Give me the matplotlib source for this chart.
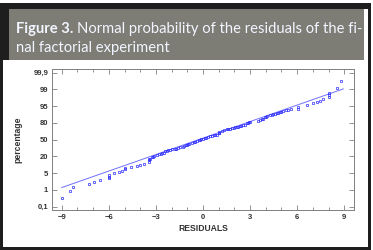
import matplotlib
matplotlib.use("Agg")
import matplotlib.pyplot as plt
import numpy as np
from matplotlib.patches import Rectangle
from matplotlib.ticker import MultipleLocator

# residuals and their position on the (evenly spaced) probability axis,
# read off the picture; 0 -> 0.1 %, 8 -> 99.9 %
residuals = [
    -9.00, -8.49, -8.28, -7.28, -6.96, -6.58, -5.99, -5.99, -5.99, -5.69,
    -5.37, -5.14, -4.99, -4.99, -4.57, -4.21, -3.99, -3.78, -3.46, -3.46,
    -3.42, -3.35, -3.25, -3.20, -3.10, -2.93, -2.80, -2.70, -2.60, -2.51,
    -2.40, -2.30, -2.20, -2.10, -1.98, -1.80, -1.70, -1.60, -1.45, -1.30,
    -1.24, -1.10, -1.03, -0.95, -0.86, -0.70, -0.60, -0.50, -0.40, -0.28,
    -0.20, -0.10, 0.03, 0.10, 0.20, 0.35, 0.45, 0.55, 0.67, 0.75,
    0.88, 0.99, 1.00, 1.05, 1.20, 1.31, 1.52, 1.60, 1.70, 1.84,
    2.00, 2.05, 2.15, 2.26, 2.35, 2.45, 2.58, 2.70, 2.79, 2.85,
    2.90, 3.00, 3.53, 3.60, 3.75, 3.85, 3.96, 4.00, 4.07, 4.28,
    4.40, 4.49, 4.60, 4.70, 4.80, 4.91, 5.00, 5.12, 5.30, 5.44,
    5.60, 6.08, 6.08, 6.61, 7.03, 7.25, 7.46, 7.67, 8.05, 8.05,
    8.05, 8.52, 8.79,
]
prob_pos = [
    0.52, 0.96, 1.20, 1.34, 1.46, 1.57, 1.69, 1.79, 1.89, 1.99,
    2.05, 2.13, 2.23, 2.31, 2.35, 2.43, 2.49, 2.55, 2.69, 2.79,
    2.87, 2.82, 2.95, 2.98, 3.03, 3.11, 3.12, 3.15, 3.20, 3.23,
    3.31, 3.35, 3.36, 3.38, 3.42, 3.45, 3.47, 3.50, 3.54, 3.58,
    3.62, 3.66, 3.70, 3.72, 3.74, 3.78, 3.84, 3.86, 3.90, 3.98,
    4.00, 4.02, 4.06, 4.08, 4.12, 4.18, 4.20, 4.22, 4.26, 4.27,
    4.28, 4.38, 4.42, 4.48, 4.50, 4.58, 4.62, 4.64, 4.66, 4.68,
    4.72, 4.78, 4.76, 4.78, 4.80, 4.84, 4.86, 4.90, 4.98, 5.00,
    5.06, 5.08, 5.14, 5.16, 5.22, 5.26, 5.33, 5.36, 5.42, 5.47,
    5.48, 5.51, 5.54, 5.57, 5.60, 5.65, 5.68, 5.73, 5.76, 5.77,
    5.80, 5.93, 5.83, 6.07, 6.17, 6.23, 6.29, 6.41, 6.53, 6.67,
    6.81, 7.07, 7.50,
]
# fitted reference line (end points)
fit_x = [-9.0, 8.94]
fit_pos = [1.14, 7.03]

pct_labels = ["0,1", "1", "5", "20", "50", "80", "95", "99", "99,9"]
x_ticks = [-9, -6, -3, 0, 3, 6, 9]

W, H = 373, 250
fig = plt.figure(figsize=(W / 100, H / 100), dpi=100)
fig.patch.set_facecolor("white")


def px_rect(x0, y0, x1, y1, color):
    # rectangle given in pixel coords, origin at top-left
    fig.patches.append(Rectangle((x0 / W, 1 - y1 / H), (x1 - x0) / W,
                                 (y1 - y0) / H, transform=fig.transFigure,
                                 facecolor=color, edgecolor="none", zorder=-5))


# card frame and title box
px_rect(0, 2.7, 371, 250, "#1e1e1e")
px_rect(3, 60, 367.5, 246.5, "white")
px_rect(364, 9, 367.5, 60, "white")
px_rect(9, 9, 364, 60, "#7d7d76")

title_color = "#f2f5ff"
title_size = 10.6
t1 = fig.text(16 / W, 1 - 33 / H, "Figure 3.", fontfamily="Lato",
              fontweight="bold", fontsize=title_size, color=title_color)
fig.canvas.draw()
bb = t1.get_window_extent()
fig.text((bb.x1 + 3.5) / W, 1 - 33 / H,
         "Normal probability of the residuals of the fi-",
         fontfamily="Lato", fontsize=title_size, color=title_color)
fig.text(16 / W, 1 - 52 / H, "nal factorial experiment",
         fontfamily="Lato", fontsize=title_size, color=title_color)

ax = fig.add_axes([52.3 / W, 1 - 210 / H, (354 - 52.3) / W, (210 - 69.3) / H])
ax.patch.set_alpha(0)
ax.plot(fit_x, fit_pos, color="#7070ff", lw=0.7)
ax.plot(residuals, prob_pos, linestyle="none", marker="s", markersize=2.1,
        markerfacecolor="none", markeredgecolor="#2d2dff", markeredgewidth=0.5)

ax.set_xlim(-9.6, 9.62)
ax.set_ylim(-0.2, 8.2)
ax.set_xticks(x_ticks)
ax.xaxis.set_minor_locator(MultipleLocator(1))
ax.set_yticks(range(len(pct_labels)))
ax.set_yticklabels(pct_labels)

for lbl in ax.get_xticklabels() + ax.get_yticklabels():
    lbl.set_fontfamily("Liberation Sans")
    lbl.set_fontweight("bold")
    lbl.set_fontsize(5.5)
    lbl.set_color("#333333")

ax.tick_params(which="both", direction="in", top=True, right=True,
               color="#808080", width=0.6, pad=3)
ax.tick_params(which="major", length=3.5)
ax.tick_params(which="minor", length=2)
for sp in ax.spines.values():
    sp.set_color("#808080")
    sp.set_linewidth(0.7)

ax.set_xlabel("RESIDUALS", fontfamily="Liberation Sans", fontweight="bold",
              fontsize=6.2, color="#333333", labelpad=2)
ax.set_ylabel("percentage", fontfamily="Liberation Sans", fontweight="bold",
              fontsize=6.2, color="#333333", labelpad=8)

fig.savefig("out.png", dpi=100)
